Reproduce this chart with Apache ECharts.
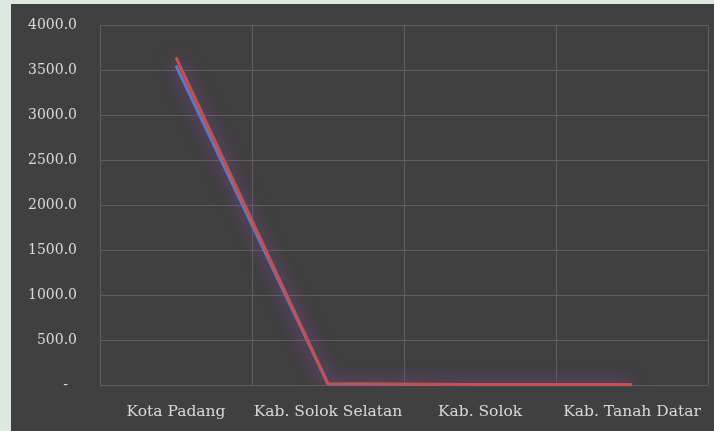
<!DOCTYPE html>
<html><head><meta charset="utf-8">
<script src="https://cdn.jsdelivr.net/npm/echarts@6/dist/echarts.min.js"></script>
<style>
html,body{margin:0;padding:0;background:#dfe8df;width:714px;height:431px;overflow:hidden}
#panel{position:absolute;left:11px;top:4px;width:703px;height:427px;background:#404040}
#c{position:absolute;left:0;top:0;width:714px;height:431px}
</style></head>
<body><div id="panel"></div><div id="c"></div>
<script>
var categories = ['Kota Padang', 'Kab. Solok Selatan', 'Kab. Solok', 'Kab. Tanah Datar'];
var seriesBlue = [3550, 10, 4, 4];
var seriesRed = [3640, 15, 6, 6];
var yTicks = [0, 500, 1000, 1500, 2000, 2500, 3000, 3500, 4000];

var chart = echarts.init(document.getElementById('c'), null, {renderer: 'canvas'});
var font = '"DejaVu Serif", "Liberation Serif", serif';
chart.setOption({
  backgroundColor: 'transparent',
  animation: false,
  grid: {left: 100, right: 6, top: 25, bottom: 46},
  xAxis: {
    type: 'category', data: categories, boundaryGap: true,
    axisLine: {show: false}, axisTick: {show: false},
    splitLine: {show: true, interval: 0, lineStyle: {color: '#5e5e5e', width: 1}},
    axisLabel: {color: '#d9d9d9', fontFamily: font, fontSize: 15.5, margin: 19, interval: 0}
  },
  yAxis: {
    type: 'value', min: yTicks[0], max: yTicks[yTicks.length - 1], interval: 500,
    axisLine: {show: false}, axisTick: {show: false},
    splitLine: {lineStyle: {color: '#5e5e5e', width: 1}},
    axisLabel: {color: '#d9d9d9', fontFamily: font, fontSize: 14, margin: 23,
      formatter: function (v) { return v === 0 ? '-  ' : v.toFixed(1); }}
  },
  series: [
    {type: 'line', data: seriesBlue, symbol: 'none',
     lineStyle: {color: '#5b7fc8', width: 3, shadowColor: 'rgba(120,80,190,0.8)', shadowBlur: 18}},
    {type: 'line', data: seriesRed, symbol: 'none',
     lineStyle: {color: '#c4504f', width: 3, shadowColor: 'rgba(160,60,140,0.8)', shadowBlur: 18}}
  ]
});
</script></body></html>
